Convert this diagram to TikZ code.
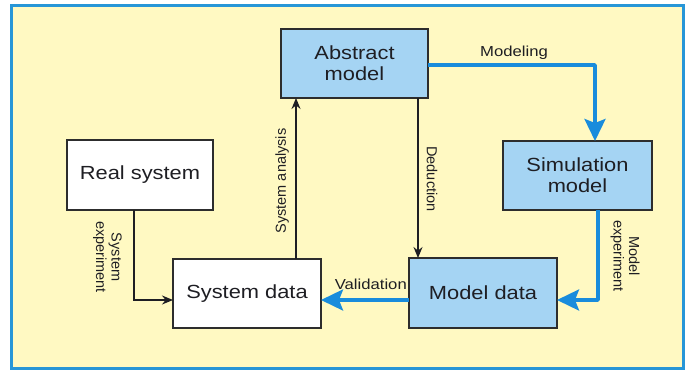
\documentclass[tikz,border=0pt]{standalone}
\usepackage{fontspec}
\setmainfont{Liberation Sans}[FakeStretch=1.15]
\newfontfamily\rotf{Liberation Sans}
\usetikzlibrary{arrows.meta}
\definecolor{bgyel}{RGB}{255,249,194}
\definecolor{framec}{RGB}{40,150,215}
\definecolor{arrblue}{RGB}{25,140,220}
\definecolor{boxblue}{RGB}{165,212,243}
\definecolor{edgec}{RGB}{45,45,45}
\definecolor{txt}{RGB}{30,30,35}
\tikzset{
  x=1pt, y=-1pt,
  box/.style={draw=edgec, line width=1.5pt, minimum width=#1, minimum height=69pt,
    inner sep=0pt, outer sep=0pt, align=center, text=txt,
    font=\fontsize{19}{21}\selectfont},
  wbox/.style={box=#1, fill=white},
  bbox/.style={box=#1, fill=boxblue},
  blk/.style={draw=txt, line width=1.5pt, -{Stealth[length=11pt,width=9pt]}},
  blu/.style={draw=arrblue, line width=3.5pt, line join=round,
    -{Stealth[length=22pt,width=21pt,inset=4pt]}},
  lab/.style={text=txt, inner sep=0pt, font=\fontsize{14.5}{16}\selectfont},
  rlab/.style={text=txt, inner sep=0pt, align=center, font=\rotf\fontsize{14.5}{15.5}\selectfont},
}
\begin{document}
\begin{tikzpicture}
\useasboundingbox (0,0) rectangle (688,372);
\draw[framec, line width=3pt, fill=bgyel] (11,5) rectangle (683,368);

\node[bbox=147pt] (abs) at (354.5,63.5) {Abstract\\model};
\node[wbox=146pt, minimum height=70pt] (real) at (140,175) {Real system};
\node[bbox=149pt] (sim) at (577.5,175.5) {Simulation\\model};
\node[wbox=148pt] (sysd) at (247,293.5) {System data};
\node[bbox=148pt, minimum height=70pt] (modd) at (483,293) {Model data};

% connectors
\draw[blu] ([yshift=-1.5pt]abs.east) -| ([xshift=17.5pt]sim.north);
\draw[blk] ([xshift=63.5pt]abs.south) -- ([xshift=-65pt]modd.north);
\draw[blk] ([xshift=49pt]sysd.north) -- ([xshift=-58.5pt]abs.south);
\draw[blk] ([xshift=-6pt]real.south) |- ([yshift=-6.5pt]sysd.west);
\draw[blu] ([yshift=-7pt]modd.west) -- ([yshift=-6.5pt]sysd.east);
\draw[blu] ([xshift=20.5pt]sim.south) |- ([yshift=-7pt]modd.east);

% labels
\node[lab] (lmod) at (514,53) {Modeling};
\node[lab, anchor=base east] (lval) at (407,289) {Validation};
\node[rlab, rotate=90] (lsa) at (282,181) {System analysis};
\node[rlab, rotate=-90] (lded) at (432,179) {Deduction};
\node[rlab, rotate=-90] (lse) at (107.5,257) {System\\experiment};
\node[rlab, rotate=-90] (lme) at (625,256) {Model\\experiment};
\end{tikzpicture}
\end{document}
